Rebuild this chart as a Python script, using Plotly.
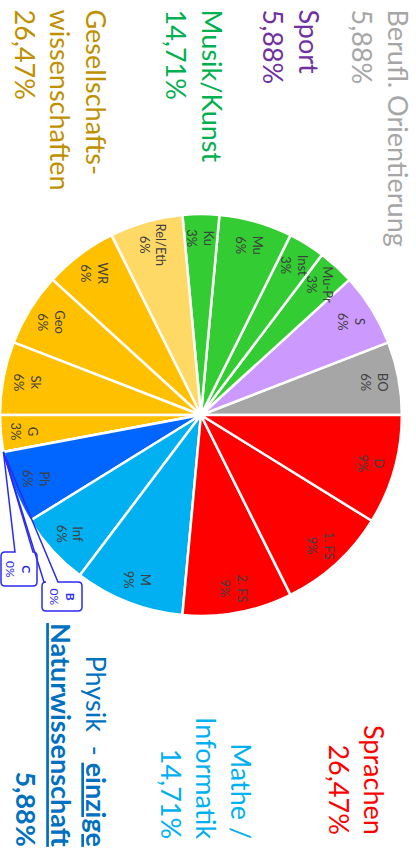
import math
import plotly.graph_objects as go

# ---- data ----
subjects = ["BO", "S", "Mu-Pr", "Inst", "Mu", "Ku", "Rel/Eth", "WR", "Geo", "Sk", "G",
            "B", "C", "Ph", "Inf", "M", "2. FS", "1. FS", "D"]
hours = [2, 2, 1, 1, 2, 1, 2, 2, 2, 2, 1, 0, 0, 2, 2, 3, 3, 3, 3]
slice_colors = ["#A6A6A6", "#CC99FF", "#33CC33", "#33CC33", "#33CC33", "#33CC33", "#FFD966",
                "#FFC000", "#FFC000", "#FFC000", "#FFC000", "#0066FF", "#0066FF", "#0066FF",
                "#00B0F0", "#00B0F0", "#FF0000", "#FF0000", "#FF0000"]

group_names_top = ["Berufl. Orientierung", "Sport", "Musik/Kunst", "Gesellschafts-<br>wissenschaften"]
group_values_top = ["5,88%", "5,88%", "14,71%", "26,47%"]
group_colors_top = ["#A6A6A6", "#7030A0", "#00B050", "#BF9000"]

group_names_bottom = ["Sprachen", "Mathe /<br>Informatik"]
group_values_bottom = ["26,47%", "14,71%"]
group_colors_bottom = ["#FF0000", "#00B0F0"]

physik_text = "Physik  - <b><u>einzige</u></b><br><b><u>Naturwissenschaft</u></b><br><b>5,88%</b>"
physik_color = "#0070C0"

W, H = 416, 850
FONT = "Lato"
CALLOUT = "#2B2BF0"

dom_x = [0.0, 0.966]
dom_y = [0.2753, 0.7482]
total = sum(hours)

fig = go.Figure(go.Pie(
    labels=subjects, values=hours, sort=False, direction="counterclockwise",
    # plotly offsets a counterclockwise pie by its first slice; compensate so BO starts at 3 o'clock
    rotation=90 - 360 * hours[0] / total, domain=dict(x=dom_x, y=dom_y),
    marker=dict(colors=slice_colors, line=dict(color="white", width=2.5)),
    textinfo="none", hoverinfo="label+percent", showlegend=False,
))

# geometry derived from the pie domain (pixels, y measured from bottom)
R = min((dom_x[1] - dom_x[0]) * W, (dom_y[1] - dom_y[0]) * H) / 2
cx = (dom_x[0] + dom_x[1]) / 2 * W
cy = (dom_y[0] + dom_y[1]) / 2 * H


def px_x(x):
    return x / W


def px_y(y_top):  # y measured from top of the picture
    return 1 - y_top / H


annotations = []
shapes = []
# callout boxes (left, top, right, bottom) and tail entry points, in pixels from top-left
callout_boxes = {"C": (1, 552, 37, 586, 15, 33), "B": (42, 582, 82, 611, 44, 58)}
cum = 0
for name, v in zip(subjects, hours):
    a0 = cum / total * 2 * math.pi
    cum += v
    a1 = cum / total * 2 * math.pi
    mid = (a0 + a1) / 2
    pct = f"{round(100 * v / total)}%"
    if v > 0:
        r = 0.88 * R
        annotations.append(dict(
            x=(cx + r * math.cos(mid)) / W, y=(cy + r * math.sin(mid)) / H,
            xref="paper", yref="paper", xanchor="center", yanchor="middle",
            text=f"{name}<br>{pct}", showarrow=False,
            textangle=90, font=dict(family=FONT, size=13, color="#404040"),
        ))
    else:
        # anchor point on the rim
        ax_px = cx + R * math.cos(mid)
        ay_px = H - (cy + R * math.sin(mid))
        l, t, rr, b, t1, t2 = callout_boxes[name]
        k = 4
        path = (f"M {px_x(l + k)},{px_y(t)} L {px_x(t1)},{px_y(t)} L {px_x(ax_px)},{px_y(ay_px)} "
                f"L {px_x(t2)},{px_y(t)} L {px_x(rr - k)},{px_y(t)} "
                f"Q {px_x(rr)},{px_y(t)} {px_x(rr)},{px_y(t + k)} L {px_x(rr)},{px_y(b - k)} "
                f"Q {px_x(rr)},{px_y(b)} {px_x(rr - k)},{px_y(b)} L {px_x(l + k)},{px_y(b)} "
                f"Q {px_x(l)},{px_y(b)} {px_x(l)},{px_y(b - k)} L {px_x(l)},{px_y(t + k)} "
                f"Q {px_x(l)},{px_y(t)} {px_x(l + k)},{px_y(t)} Z")
        shapes.append(dict(type="path", xref="paper", yref="paper", path=path,
                           line=dict(color=CALLOUT, width=1.5), fillcolor="rgba(255,255,255,0)"))
        annotations.append(dict(
            x=px_x((l + rr) / 2), y=px_y((t + b) / 2), xref="paper", yref="paper",
            xanchor="center", yanchor="middle",
            text=f"<b>{name}</b><br>{pct}", showarrow=False,
            textangle=90, font=dict(family=FONT, size=12, color=CALLOUT),
        ))

TS = 27
top_x = [380, 291, 194, 61]
for name, val, col, xx in zip(group_names_top, group_values_top, group_colors_top, top_x):
    annotations.append(dict(
        x=xx / W, y=px_y(7), xref="paper", yref="paper", xanchor="center", yanchor="top",
        text=f"{name}<br>{val}", showarrow=False, textangle=90, align="left",
        font=dict(family=FONT, size=TS, color=col),
    ))

bot_x = [357, 207]
bot_end = [837, 841]
for name, val, col, xx, ye in zip(group_names_bottom, group_values_bottom, group_colors_bottom, bot_x, bot_end):
    annotations.append(dict(
        x=xx / W, y=px_y(ye), xref="paper", yref="paper", xanchor="center", yanchor="bottom",
        text=f"{name}<br>{val}", showarrow=False, textangle=90, align="right",
        font=dict(family=FONT, size=TS, color=col),
    ))

annotations.append(dict(
    x=62 / W, y=px_y(849), xref="paper", yref="paper", xanchor="center", yanchor="bottom",
    text=physik_text, showarrow=False, textangle=90, align="right",
    font=dict(family=FONT, size=TS, color=physik_color),
))

fig.update_layout(
    width=W, height=H, margin=dict(l=0, r=0, t=0, b=0),
    paper_bgcolor="white", plot_bgcolor="white",
    annotations=annotations, shapes=shapes,
)

fig.write_html("out.html", config={"displayModeBar": False},
               post_script="document.body.style.margin='0';")
